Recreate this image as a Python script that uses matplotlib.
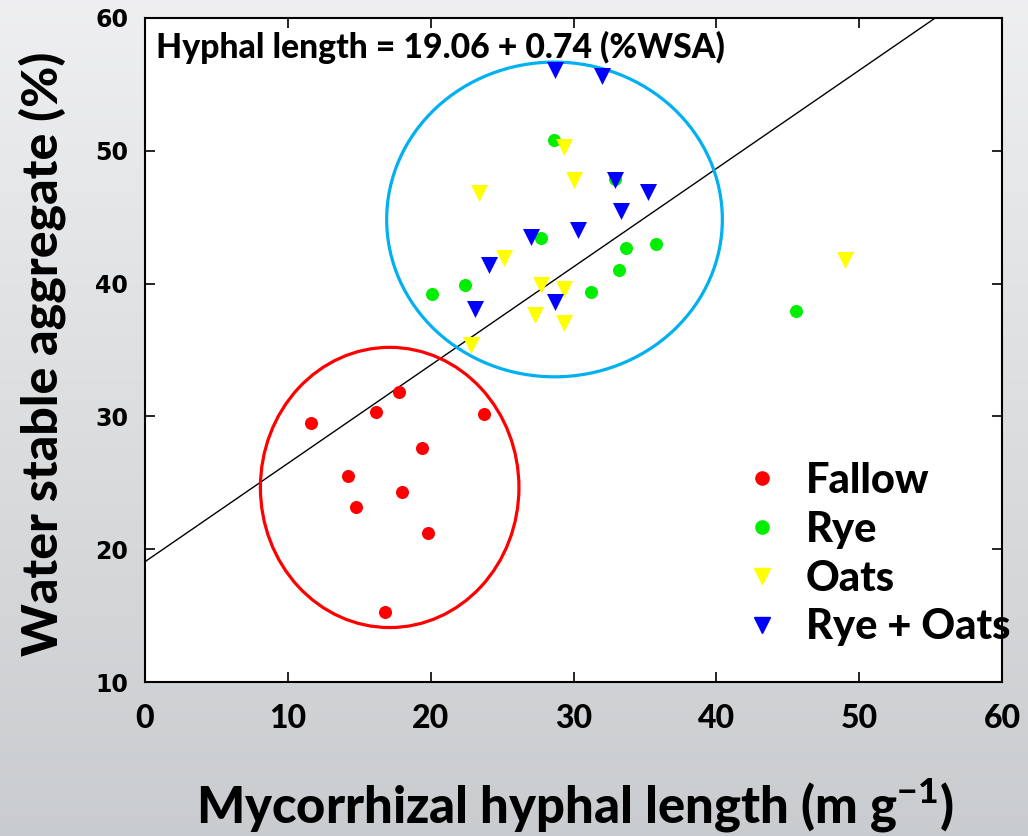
import numpy as np
import matplotlib
matplotlib.use("Agg")
import matplotlib.pyplot as plt
from matplotlib.patches import Ellipse
from matplotlib.lines import Line2D

# ---------------- data ----------------
fallow_x = [11.6, 16.2, 17.8, 23.7, 19.4, 14.2, 18.0, 14.8, 19.8, 16.8]
fallow_y = [29.5, 30.3, 31.8, 30.2, 27.6, 25.5, 24.3, 23.2, 21.2, 15.3]

rye_x = [28.6, 32.9, 27.7, 33.7, 35.8, 33.2, 31.2, 22.4, 20.1, 45.6]
rye_y = [50.8, 47.9, 43.4, 42.7, 43.0, 41.0, 39.4, 39.9, 39.2, 37.9]

oats_x = [29.3, 30.0, 23.4, 25.1, 27.7, 29.3, 27.3, 29.3, 22.8, 49.0]
oats_y = [50.3, 47.8, 46.8, 41.9, 39.9, 39.6, 37.6, 37.0, 35.4, 41.8]

ryeoats_x = [28.7, 32.0, 32.9, 35.2, 33.3, 30.3, 27.0, 24.1, 28.7, 23.1]
ryeoats_y = [56.1, 55.6, 47.8, 46.9, 45.5, 44.0, 43.5, 41.4, 38.6, 38.1]

labels = ["Fallow", "Rye", "Oats", "Rye + Oats"]
intercept = 19.06
slope = 0.74
equation = "Hyphal length = 19.06 + 0.74 (%WSA)"

x_ticks = [0, 10, 20, 30, 40, 50, 60]
y_ticks = [10, 20, 30, 40, 50, 60]

FW = "black"

# ---------------- figure ----------------
W, H = 1028, 836
fig = plt.figure(figsize=(W / 100, H / 100), dpi=100)

# background gradient
bg = fig.add_axes([0, 0, 1, 1], zorder=-10)
g = np.linspace(0, 1, 200)[:, None]
top = np.array([0.935, 0.937, 0.942])
bot = np.array([0.79, 0.80, 0.81])
img = top[None, None, :] * (1 - g[..., None]) + bot[None, None, :] * g[..., None]
img = np.repeat(img, 2, axis=1)
bg.imshow(img, aspect="auto", extent=[0, 1, 0, 1], origin="upper")
bg.set_axis_off()

L, R, T, B = 145, 1002, 18, 682
ax = fig.add_axes([L / W, 1 - B / H, (R - L) / W, (B - T) / H])
ax.set_facecolor("white")
ax.set_xlim(0, 60)
ax.set_ylim(10, 60)

ms_c = 88
ms_t = 150
ax.scatter(fallow_x, fallow_y, s=ms_c, marker="o", color="#ff0000", zorder=3, linewidths=0)
ax.scatter(rye_x, rye_y, s=ms_c, marker="o", color="#00ee00", zorder=3, linewidths=0)
ax.scatter(oats_x, oats_y, s=ms_t, marker="v", color="#ffff00", zorder=4, linewidths=0)
ax.scatter(ryeoats_x, ryeoats_y, s=ms_t, marker="v", color="#0000ff", zorder=5, linewidths=0)

# regression line
xl = np.array([0, 60])
ax.plot(xl, intercept + slope * xl, color="black", lw=1.0, zorder=2)

# group ellipses
ax.add_patch(Ellipse((17.13, 24.65), 18.1, 21.1, fill=False, edgecolor="#ff0000", lw=2.3, zorder=2.5))
ax.add_patch(Ellipse((28.67, 44.83), 23.5, 23.7, fill=False, edgecolor="#00b0f0", lw=2.3, zorder=2.5))

# equation
ax.text((156 - L) / (R - L), 1 - (58 - T) / (B - T), equation, transform=ax.transAxes,
        ha="left", va="baseline", fontsize=24.3, fontweight=FW, family="Lato")

# ticks
ax.set_xticks(x_ticks)
ax.set_yticks(y_ticks)
ax.tick_params(direction="in", top=True, right=True, length=7, width=1.2)
ax.tick_params(axis="x", pad=16)
ax.tick_params(axis="y", pad=12)
for t in ax.get_xticklabels():
    t.set_fontfamily("Lato"); t.set_fontweight(FW); t.set_fontsize(23)
for t in ax.get_yticklabels():
    t.set_fontfamily("DejaVu Sans"); t.set_fontweight("bold"); t.set_fontsize(17)
for s in ax.spines.values():
    s.set_linewidth(1.5)

# axis labels
fig.text(42 / W, 1 - 354 / H, "Water stable aggregate (%)", rotation=90, ha="center", va="center",
         fontsize=36, fontweight=FW, family="Lato")
plt.rcParams["mathtext.fontset"] = "custom"
plt.rcParams["mathtext.bf"] = "Lato:black"
plt.rcParams["mathtext.rm"] = "Lato"
fig.text(575 / W, 1 - 806 / H, r"Mycorrhizal hyphal length (m g$^{\mathbf{-1}}$)", ha="center", va="center",
         fontsize=36.5, fontweight=FW, family="Lato")

# legend
handles = [
    Line2D([], [], marker="o", ls="", color="#ff0000", ms=9.5),
    Line2D([], [], marker="o", ls="", color="#00ee00", ms=9.5),
    Line2D([], [], marker="v", ls="", color="#ffff00", ms=11.5),
    Line2D([], [], marker="v", ls="", color="#0000ff", ms=11.5),
]
leg = ax.legend(handles, labels, loc="upper left", bbox_to_anchor=((749 - L) / (R - L), 1 - (462 - T) / (B - T)),
                frameon=False, prop={"family": "Lato", "weight": FW, "size": 30},
                handlelength=0.6, handletextpad=0.76, labelspacing=0.26, borderaxespad=0, borderpad=0)

fig.savefig("out.png", dpi=100)
